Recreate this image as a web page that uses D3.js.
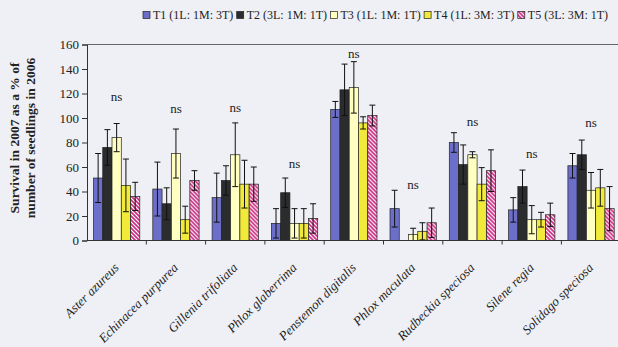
<!DOCTYPE html>
<html>
<head>
<meta charset="utf-8">
<script src="https://cdn.jsdelivr.net/npm/d3@7"></script>
<style>
  html, body { margin: 0; padding: 0; background: #eff0f5; }
  svg { display: block; font-family: 'Liberation Serif', 'Times New Roman', serif; }
</style>
</head>
<body>
<div id="app"></div>
<script>
// species on the x axis
const species = [
  'Aster azureus', 'Echinacea purpurea', 'Gillenia trifoliata', 'Phlox glaberrima',
  'Penstemon digitalis', 'Phlox maculata', 'Rudbeckia speciosa', 'Silene regia', 'Solidago speciosa'
]
const treatments = ['T1 (1L: 1M: 3T)', 'T2 (3L: 1M: 1T)', 'T3 (1L: 1M: 1T)', 'T4 (1L: 3M: 3T)', 'T5 (3L: 3M: 1T)']

// mean survival (%) per species, one array per treatment
const t1 = [51, 42, 35, 14, 107, 26, 80, 25, 61]
const t2 = [76, 30, 49, 39, 123, 0, 62, 44, 70]
const t3 = [84, 71, 70, 14, 125, 5, 70, 17, 41]
const t4 = [45, 17, 46, 14, 96, 7.5, 46, 17, 43]
const t5 = [36, 49, 46, 18, 102, 14.5, 57, 21, 26]

// error bar half widths
const e1 = [20, 22, 20, 12, 6.5, 15, 8, 10, 10]
const e2 = [14.5, 13, 12, 12, 21, 0, 16, 13.5, 12]
const e3 = [11.5, 20, 26, 12, 21, 5, 2.5, 11.5, 14.5]
const e4 = [21.5, 11, 19.5, 12, 5, 7, 13.5, 6, 15]
const e5 = [11.5, 8, 14, 12, 8.5, 12, 17, 9.5, 18]

// height of the "ns" notes, in axis units
const nsLabel = 'ns'
const nsLevel = [118, 108, 109, 63, 153, 46, 97, 71, 96]

const yTicks = [0, 20, 40, 60, 80, 100, 120, 140, 160]

const means = [t1, t2, t3, t4, t5]
const errs = [e1, e2, e3, e4, e5]
const fills = ['#6b6fca', '#2a2c2e', '#ffffc2', '#f1ea3a', 'url(#hatch)']

const W = 618, H = 347
const svg = d3.select('#app').append('svg').attr('width', W).attr('height', H)

// hatch for T5
const pat = svg.append('defs').append('pattern')
  .attr('id', 'hatch').attr('patternUnits', 'userSpaceOnUse')
  .attr('width', 4).attr('height', 4)
pat.append('rect').attr('width', 4).attr('height', 4).attr('fill', '#fff')
pat.append('path').attr('d', 'M-1,-1 l6,6 M-1,3 l2,2 M3,-1 l2,2')
  .attr('stroke', '#cc2a82').attr('stroke-width', 1.6)

const x = d3.scaleBand().domain(species).range([87, 87 + 9 * 59.3])
const xs = d3.scaleBand().domain(treatments).range([6.5, x.bandwidth() - 6.5])
const y = d3.scaleLinear().domain([0, 160]).range([240.5, 44.5])

// top border of plot area
svg.append('line').attr('x1', 87).attr('x2', W).attr('y1', y(160)).attr('y2', y(160))
  .attr('stroke', '#666').attr('stroke-width', 1)

const groups = svg.append('g').selectAll('g').data(species).join('g')
  .attr('transform', (d) => `translate(${x(d)},0)`)

treatments.forEach((t, ti) => {
  groups.append('rect')
    .attr('x', xs(t))
    .attr('width', xs.bandwidth())
    .attr('y', (d, i) => y(means[ti][i]))
    .attr('height', (d, i) => y(0) - y(means[ti][i]))
    .attr('fill', fills[ti])
    .attr('stroke', '#222').attr('stroke-width', 0.7)

  const cx = xs(t) + xs.bandwidth() / 2
  const hi = (d) => y(means[ti][species.indexOf(d)] + errs[ti][species.indexOf(d)])
  const lo = (d) => y(Math.max(0, means[ti][species.indexOf(d)] - errs[ti][species.indexOf(d)]))
  const eb = groups.append('g').filter((d, i) => errs[ti][i] > 0)
  eb.append('line').attr('x1', cx).attr('x2', cx).attr('y1', hi).attr('y2', lo)
  eb.append('line').attr('x1', cx - 3).attr('x2', cx + 3).attr('y1', hi).attr('y2', hi)
  eb.append('line').attr('x1', cx - 3).attr('x2', cx + 3).attr('y1', lo).attr('y2', lo)
  eb.selectAll('line').attr('stroke', '#111').attr('stroke-width', 1)
})

groups.append('text')
  .attr('x', x.bandwidth() / 2)
  .attr('y', (d, i) => y(nsLevel[i]))
  .attr('dy', '0.35em')
  .attr('text-anchor', 'middle')
  .attr('font-size', 13)
  .attr('fill', '#222')
  .text(nsLabel)

// axes
const yAxis = svg.append('g').attr('transform', 'translate(87,0)')
  .call(d3.axisLeft(y).tickValues(yTicks).tickSize(5).tickPadding(3))
yAxis.select('.domain').attr('stroke', '#333')
yAxis.selectAll('line').attr('stroke', '#333')
yAxis.selectAll('text').attr('font-size', 13).attr('font-family', 'Liberation Serif').attr('fill', '#222')

const xAxis = svg.append('g').attr('transform', `translate(0,${y(0)})`)
xAxis.append('line').attr('x1', 87).attr('x2', W).attr('stroke', '#333')
xAxis.selectAll('.tk').data(species).join('line')
  .attr('x1', (d) => x(d) + x.bandwidth()).attr('x2', (d) => x(d) + x.bandwidth())
  .attr('y1', 0).attr('y2', 4).attr('stroke', '#333')

xAxis.selectAll('.lbl').data(species).join('text')
  .attr('transform', (d) => `translate(${x(d) + x.bandwidth() / 2 + 3},${28}) rotate(-45)`)
  .attr('text-anchor', 'end')
  .attr('font-size', 13)
  .attr('font-style', 'italic')
  .attr('fill', '#222')
  .text((d) => d)

// y title
const yt = svg.append('text')
  .attr('transform', 'translate(0,138) rotate(-90)')
  .attr('text-anchor', 'middle')
  .attr('font-size', 13.5)
  .attr('font-weight', 'bold')
  .attr('fill', '#222')
yt.append('tspan').attr('x', 0).attr('y', 19).text('Survival in 2007 as a % of')
yt.append('tspan').attr('x', 0).attr('y', 35).text('number of seedlings in 2006')

// legend
const leg = svg.append('g').selectAll('g').data(treatments).join('g')
  .attr('transform', (d, i) => `translate(${143 + i * 93.7},15)`)
leg.append('rect')
  .attr('x', 0).attr('y', -3.5).attr('width', 7).attr('height', 7)
  .attr('fill', (d, i) => fills[i]).attr('stroke', '#222').attr('stroke-width', 0.7)
leg.append('text')
  .attr('x', 10).attr('dy', '0.35em')
  .attr('font-size', 12)
  .attr('fill', '#222')
  .text((d) => d)
</script>
</body>
</html>
